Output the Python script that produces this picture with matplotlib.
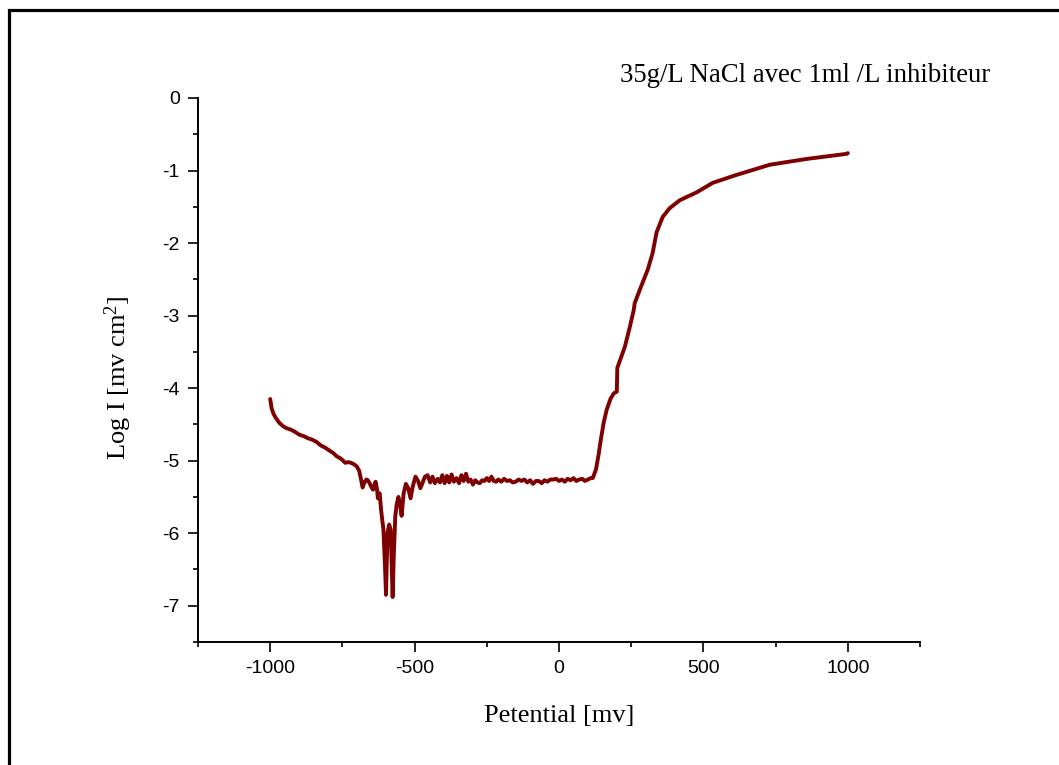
import matplotlib
matplotlib.use("Agg")
import matplotlib.pyplot as plt
from matplotlib.patches import Rectangle
from matplotlib.ticker import MultipleLocator

# Polarisation curve: potential (mV) vs log current
potential_cathodic = [-1000, -995, -988, -979, -968, -957, -945, -930, -915, -900,
                      -885, -870, -855, -840, -825, -810, -795, -780, -770, -760,
                      -750, -740, -730, -720, -710, -700, -692, -686, -680, -674,
                      -667, -662, -656, -650, -644, -638, -635, -630, -627, -621,
                      -616]
logi_cathodic = [-4.15, -4.28, -4.36, -4.42, -4.48, -4.52, -4.55, -4.57, -4.60, -4.64,
                 -4.66, -4.69, -4.71, -4.74, -4.79, -4.82, -4.86, -4.90, -4.94, -4.96,
                 -4.99, -5.03, -5.02, -5.03, -5.05, -5.08, -5.14, -5.25, -5.37, -5.30,
                 -5.26, -5.27, -5.31, -5.36, -5.40, -5.32, -5.29, -5.40, -5.52, -5.45,
                 -5.68]

potential_corrosion = [-608, -603, -599, -594, -588, -583, -579, -576, -572, -567,
                       -562, -556, -550, -545, -538, -530, -522, -514, -506, -497,
                       -488, -480, -472, -464]
logi_corrosion = [-5.95, -6.40, -6.85, -6.00, -5.88, -5.95, -6.50, -6.88, -6.30, -5.77,
                  -5.60, -5.50, -5.62, -5.76, -5.45, -5.32, -5.38, -5.52, -5.35, -5.22,
                  -5.28, -5.38, -5.30, -5.22]

potential_plateau = [-455, -446, -438, -430, -420, -412, -404, -396, -388, -380,
                     -372, -364, -355, -346, -338, -330, -322, -314, -306, -298,
                     -290, -282, -274, -266, -258, -250, -242, -234, -226, -218,
                     -210, -200, -190, -180, -170, -160, -150, -140, -130, -120,
                     -110, -100, -90, -80, -70, -60, -50, -40, -30, -20,
                     -10, 0, 10, 20, 30, 40, 50, 60, 70, 80,
                     90, 100, 110]
logi_plateau = [-5.20, -5.30, -5.22, -5.31, -5.25, -5.30, -5.20, -5.31, -5.21, -5.30,
                -5.19, -5.29, -5.24, -5.31, -5.20, -5.28, -5.18, -5.29, -5.26, -5.33,
                -5.27, -5.30, -5.31, -5.27, -5.28, -5.24, -5.28, -5.22, -5.28, -5.29,
                -5.26, -5.29, -5.25, -5.28, -5.27, -5.30, -5.29, -5.26, -5.28, -5.26,
                -5.30, -5.27, -5.32, -5.28, -5.28, -5.31, -5.27, -5.29, -5.26, -5.26,
                -5.25, -5.28, -5.26, -5.29, -5.25, -5.27, -5.24, -5.28, -5.26, -5.25,
                -5.28, -5.26, -5.24]

potential_anodic = [117, 128, 137, 146, 155, 165, 178, 190, 200, 202,
                    228, 245, 259, 262, 286, 307, 324, 335, 338, 359,
                    383, 418, 477, 532, 615, 730, 858, 996, 1000]
logi_anodic = [-5.24, -5.12, -4.92, -4.68, -4.47, -4.30, -4.15, -4.07, -4.05, -3.72,
               -3.43, -3.16, -2.92, -2.83, -2.58, -2.37, -2.14, -1.91, -1.85, -1.64,
               -1.52, -1.41, -1.30, -1.17, -1.06, -0.92, -0.84, -0.77, -0.76]

x_ticks = [-1000, -500, 0, 500, 1000]
y_ticks = [0, -1, -2, -3, -4, -5, -6, -7]

potential = potential_cathodic + potential_corrosion + potential_plateau + potential_anodic
logi = logi_cathodic + logi_corrosion + logi_plateau + logi_anodic

plt.rcParams["axes.unicode_minus"] = False
plt.rcParams["mathtext.fontset"] = "custom"
plt.rcParams["mathtext.rm"] = "Liberation Serif"
plt.rcParams["mathtext.it"] = "Liberation Serif:italic"

fig = plt.figure(figsize=(10.59, 7.65), dpi=100)
fig.patch.set_facecolor("white")

# page frame
fig.patches.append(Rectangle((9 / 1059, -0.2), 1.3, 1.2 - 9.5 / 765,
                             transform=fig.transFigure, fill=False,
                             edgecolor="black", linewidth=2.3))

ax = fig.add_axes([198 / 1059, 1 - 642 / 765, (920 - 198) / 1059, (642 - 98) / 765])
ax.plot(potential, logi, color="#7f0000", linewidth=2.8, solid_joinstyle="round",
        solid_capstyle="round")

ax.set_xlim(-1250, 1250)
ax.set_ylim(-7.5, 0)
ax.set_xticks(x_ticks)
ax.set_yticks(y_ticks)
ax.xaxis.set_minor_locator(MultipleLocator(250))
ax.yaxis.set_minor_locator(MultipleLocator(0.5))

for side in ("top", "right"):
    ax.spines[side].set_visible(False)
for side in ("left", "bottom"):
    ax.spines[side].set_linewidth(1.4)

ax.tick_params(which="major", direction="out", length=7.2, width=1.2,
               labelsize=14, pad=6)
ax.tick_params(which="minor", direction="out", length=3.8, width=1.2)
for lab in ax.get_xticklabels() + ax.get_yticklabels():
    lab.set_fontfamily("Liberation Sans")

ax.set_xlabel("Petential [mv]", fontsize=19, fontfamily="Liberation Serif")
ax.set_ylabel(r"Log I [mv cm$^2$]", fontsize=19, fontfamily="Liberation Serif")
ax.xaxis.set_label_coords(0.5, -0.115)
ax.yaxis.set_label_coords(-0.088, 0.485)

fig.text(805 / 1059, 1 - 75 / 765, "35g/L NaCl avec 1ml /L inhibiteur",
         fontsize=19.3, fontfamily="Liberation Serif", ha="center", va="center")

fig.savefig("out.png", dpi=100, facecolor="white")
